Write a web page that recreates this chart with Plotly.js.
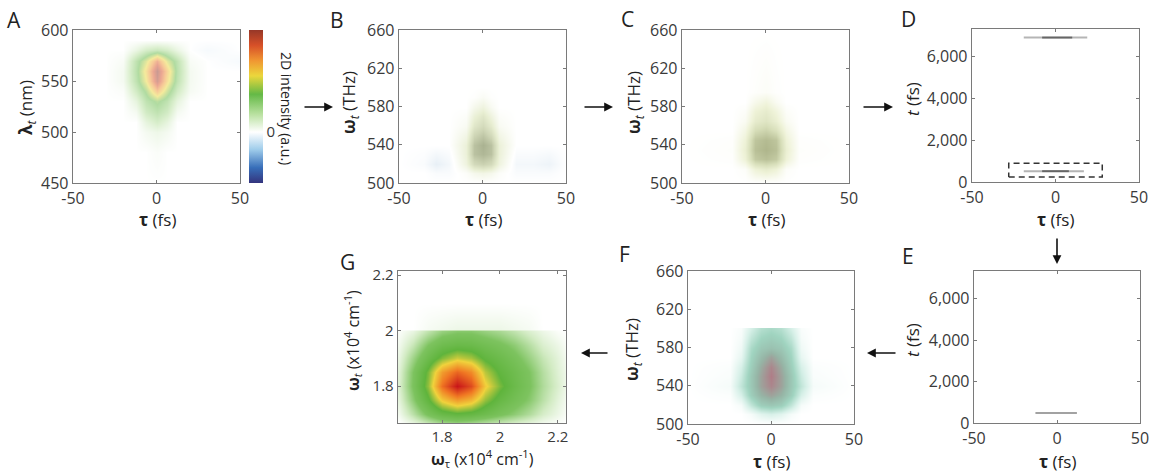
<!DOCTYPE html>
<html><head><meta charset="utf-8">
<script src="https://cdn.plot.ly/plotly-3.0.1.min.js"></script>
<style>html,body{margin:0;padding:0;background:#fff}#plot{width:1157px;height:474px}</style>
</head><body><div id="plot"></div>
<script>
// ---------- DATA ----------
// Panel A: 2D intensity vs tau (fs) and lambda_t (nm)
const tauA = [-50,-30,-20,-12,-6,0,6,12,20,30,50];
const lamA = [450,480,500,510,520,530,540,550,560,570,580,590,600];
const zA = [
 [0,0,0,0,0,0,0,0,0,0,0],
 [0,0,0,0,0,0.02,0,0,0,0,0],
 [0,0,0,0,0.05,0.08,0.05,0,0,0,0],
 [0,0,0,0,0.12,0.2,0.12,0,0,0,0],
 [0,0,0,0.05,0.22,0.3,0.22,0.05,0,0,0],
 [0,0,0,0.12,0.3,0.4,0.3,0.12,0,0,0],
 [0,0,0.02,0.22,0.4,0.7,0.45,0.22,0.04,0,0],
 [0,0,0.05,0.3,0.55,0.95,0.6,0.3,0.05,0,0],
 [0,0,0.05,0.32,0.6,1.0,0.65,0.32,0.05,0,0],
 [0,0,0.03,0.3,0.5,0.8,0.5,0.3,0.03,0,-0.03],
 [0,0,0,0.1,0.2,0.25,0.2,0.1,0,-0.03,0],
 [0,0,0,0,0,0,0,0,0,0,0],
 [0,0,0,0,0,0,0,0,0,0,0]
];
// Panel B: vs tau and omega_t (THz)
const tauB = [-50,-35,-28,-20,-10,-5,0,5,10,20,30,40,50];
const omB = [500,510,520,530,540,550,560,570,580,590,600,660];
const zB = [
 [0,0,0,0,0,0,0,0,0,0,0,0,0],
 [0,0,-0.05,-0.05,0.05,0.15,0.2,0.15,0.05,-0.05,-0.05,-0.05,0],
 [0,-0.05,-0.2,-0.1,0.25,0.6,0.7,0.6,0.25,-0.1,-0.1,-0.15,0],
 [0,-0.03,-0.1,-0.05,0.3,0.85,0.95,0.85,0.3,-0.05,-0.05,-0.08,0],
 [0,0,0,0,0.3,0.85,1.0,0.85,0.3,0,0,0,0],
 [0,0,0,0,0.2,0.65,0.8,0.6,0.2,0,0,0,0],
 [0,0,0,0,0.1,0.45,0.6,0.4,0.1,0,0,0,0],
 [0,0,0,0,0.05,0.3,0.45,0.25,0.05,0,0,0,0],
 [0,0,0,0,0,0.15,0.25,0.1,0,0,0,0,0],
 [0,0,0,0,0,0.02,0.08,0.02,0,0,0,0,0],
 [0,0,0,0,0,0,0,0,0,0,0,0,0],
 [0,0,0,0,0,0,0,0,0,0,0,0,0]
];
// Panel C: filtered, vs tau and omega_t (THz)
const tauC = [-50,-20,-12,-6,0,6,12,20,50];
const omC = [500,515,525,535,545,555,565,575,585,595,660];
const zC = [
 [0,0,0,0,0,0,0,0,0],
 [0,0,0.05,0.3,0.4,0.3,0.05,0,0],
 [0,0.02,0.3,0.8,0.9,0.8,0.3,0.02,0],
 [0,0.03,0.35,0.9,1.0,0.9,0.35,0.03,0],
 [0,0.02,0.3,0.85,0.95,0.85,0.3,0.02,0],
 [0,0,0.2,0.6,0.7,0.55,0.2,0,0],
 [0,0,0.1,0.4,0.5,0.35,0.1,0,0],
 [0,0,0.05,0.3,0.4,0.25,0.05,0,0],
 [0,0,0,0.15,0.25,0.1,0,0,0],
 [0,0,0,0.03,0.06,0.02,0,0,0],
 [0,0,0,0,0,0,0,0,0]
];
// Panel D: time-domain lines (t in fs)
const dLine1Tau = [-19,19];
const dLine1T = [6920,6920];
const dCore1Tau = [-8,10];
const dCore1T = [6920,6920];
const dLine2Tau = [-19,17];
const dLine2T = [520,520];
const dCore2Tau = [-8,8];
const dCore2T = [520,520];
const dBoxTau = [-28,28,28,-28,-28];
const dBoxT = [240,240,900,900,240];
// Panel E: gated time-domain line
const eLineTau = [-13,12];
const eLineT = [480,480];
// Panel F: vs tau and omega_t (THz)
const tauF = [-50,-25,-18,-12,-6,0,6,12,18,25,50];
const omF = [500,510,520,530,540,550,560,570,580,590,600,601,660];
const zF = [
 [0,0,0,0,0,0,0,0,0,0,0],
 [0,0,0,0.05,0.15,0.2,0.15,0.05,0,0,0],
 [0,0,0.05,0.3,0.5,0.55,0.5,0.3,0.05,0,0],
 [0,0.02,0.2,0.5,0.7,0.8,0.7,0.5,0.2,0.02,0],
 [0,0.05,0.3,0.55,0.8,0.95,0.8,0.55,0.3,0.05,0],
 [0,0.03,0.25,0.55,0.8,1.0,0.8,0.55,0.25,0.03,0],
 [0,0.02,0.2,0.5,0.75,0.95,0.75,0.5,0.2,0.02,0],
 [0,0,0.12,0.45,0.65,0.8,0.65,0.45,0.12,0,0],
 [0,0,0.08,0.4,0.55,0.6,0.55,0.4,0.08,0,0],
 [0,0,0.05,0.3,0.45,0.5,0.45,0.3,0.05,0,0],
 [0,0,0.03,0.2,0.35,0.4,0.35,0.2,0.03,0,0],
 [0,0,0,0,0,0,0,0,0,0,0],
 [0,0,0,0,0,0,0,0,0,0,0]
];
// Panel G: 2D spectrum, omega_tau vs omega_t (x10^4 cm^-1)
const wTau = [1.65,1.7,1.75,1.8,1.85,1.9,1.95,2.0,2.05,2.1,2.15,2.2,2.23];
const wT = [1.667,1.7,1.75,1.8,1.85,1.9,1.95,2.0,2.005,2.1,2.215];
const zG = [
 [0.0,0.05,0.12,0.18,0.2,0.18,0.15,0.12,0.09,0.06,0.03,0.01,0],
 [0.03,0.14,0.27,0.36,0.4,0.38,0.33,0.27,0.22,0.16,0.09,0.04,0.01],
 [0.06,0.22,0.4,0.6,0.7,0.64,0.48,0.37,0.3,0.23,0.14,0.06,0.02],
 [0.08,0.26,0.48,0.8,1.0,0.88,0.6,0.45,0.35,0.26,0.16,0.08,0.03],
 [0.07,0.25,0.45,0.7,0.82,0.74,0.52,0.4,0.33,0.25,0.15,0.07,0.03],
 [0.05,0.19,0.34,0.46,0.54,0.5,0.4,0.34,0.28,0.2,0.12,0.06,0.02],
 [0.03,0.12,0.25,0.33,0.36,0.35,0.31,0.27,0.22,0.15,0.08,0.04,0.01],
 [0.01,0.05,0.13,0.2,0.23,0.23,0.2,0.17,0.13,0.08,0.04,0.01,0],
 [0,0,0.02,0.03,0.04,0.04,0.04,0.04,0.03,0.02,0,0,0],
 [0,0,0,0,0,0,0,0,0,0,0,0,0],
 [0,0,0,0,0,0,0,0,0,0,0,0,0]
];
// Tick labels
const tauTicks = [-50,0,50], tauTickText = ['-50','0','50'];
const lamTicks = [450,500,550,600];
const omTicks = [500,540,580,620,660];
const tTicks = [0,2000,4000,6000], tTickText = ['0','2,000','4,000','6,000'];
const gTicks = [1.8,2,2.2], gTickText = ['1.8','2','2.2'];

// ---------- LAYOUT HELPERS ----------
const W = 1157, H = 474;
const dx = (a,b) => [a/W, b/W];
const dy = (top,bot) => [1-bot/H, 1-top/H];
const FONT = 'Open Sans, Noto Sans, sans-serif';
const tickFont = {family: FONT, size: 16, color: '#3a3a3a'};
function ax(domain, anchor, range, tickvals, ticktext, extra) {
  return Object.assign({
    domain, anchor, range, tickvals, ticktext: ticktext || tickvals.map(String),
    showline: true, mirror: 'ticks', linecolor: '#7a7a7a', linewidth: 1.3,
    ticks: 'inside', ticklen: 3, tickcolor: '#7a7a7a', tickwidth: 1,
    showgrid: false, zeroline: false, tickfont: tickFont, fixedrange: true
  }, extra || {});
}

const jet = [[0,'rgb(52,52,125)'],[0.1,'rgb(55,110,185)'],[0.22,'rgb(160,205,235)'],[0.333,'rgb(255,255,255)'],
  [0.45,'rgb(185,225,160)'],[0.58,'rgb(100,185,70)'],[0.7,'rgb(235,215,60)'],[0.8,'rgb(240,150,50)'],
  [0.9,'rgb(215,80,40)'],[1,'rgb(150,55,40)']];
const csB = [[0,'rgb(220,232,242)'],[0.23,'rgb(255,255,255)'],[0.5,'rgb(232,238,210)'],[0.75,'rgb(205,212,180)'],[1,'rgb(170,178,145)']];
const csC = [[0,'rgb(255,255,255)'],[0.3,'rgb(238,242,215)'],[0.6,'rgb(215,222,185)'],[1,'rgb(175,182,140)']];
const csF = [[0,'rgb(255,255,255)'],[0.2,'rgb(215,240,232)'],[0.45,'rgb(160,212,192)'],[0.7,'rgb(150,180,165)'],[1,'rgb(175,125,135)']];
const csG = [[0,'rgb(255,255,255)'],[0.1,'rgb(210,235,195)'],[0.25,'rgb(125,195,95)'],[0.42,'rgb(95,180,60)'],
  [0.58,'rgb(240,210,60)'],[0.78,'rgb(240,120,35)'],[1,'rgb(200,20,25)']];

const hm = (x,y,z,xa,ya,cs,zmin,zmax,extra) => Object.assign({type:'heatmap', x, y, z, xaxis:xa, yaxis:ya,
  colorscale: cs, zmin, zmax, zsmooth:'best', showscale:false, hoverinfo:'skip'}, extra||{});
const ln = (x,y,xa,ya,color,width,dash) => ({type:'scatter', mode:'lines', x, y, xaxis:xa, yaxis:ya,
  line:{color, width, dash: dash||'solid'}, hoverinfo:'skip'});

const data = [
  hm(tauA, lamA, zA, 'x', 'y', jet, -0.5, 1.0, {opacity: 0.5, showscale: true,
    colorbar: {x: 249/W, xanchor:'left', y: 1-106.5/H, yanchor:'middle', len: 153/H, lenmode:'fraction',
      thickness: 14, thicknessmode:'pixels', outlinewidth: 0, tickvals:[0], ticktext:['0'], ticks:'',
      ticklabelposition:'outside', tickfont:{family:FONT,size:15,color:'#3a3a3a'}, xpad:0, ypad:0}}),
  hm(tauB, omB, zB, 'x2', 'y2', csB, -0.3, 1.0),
  hm(tauC, omC, zC, 'x3', 'y3', csC, 0, 1.0),
  ln(dLine1Tau, dLine1T, 'x4', 'y4', 'rgba(90,90,90,0.45)', 2),
  ln(dCore1Tau, dCore1T, 'x4', 'y4', 'rgba(50,50,50,0.6)', 2),
  ln(dLine2Tau, dLine2T, 'x4', 'y4', 'rgba(90,90,90,0.45)', 2),
  ln(dCore2Tau, dCore2T, 'x4', 'y4', 'rgba(50,50,50,0.6)', 2),
  ln(dBoxTau, dBoxT, 'x4', 'y4', '#333', 1.5, '6px,4px'),
  ln(eLineTau, eLineT, 'x5', 'y5', 'rgba(70,70,70,0.5)', 2),
  hm(tauF, omF, zF, 'x6', 'y6', csF, 0, 1.0),
  hm(wTau, wT, zG, 'x7', 'y7', csG, 0, 1.0)
];

const layout = {
  width: W, height: H, margin:{l:0,r:0,t:0,b:0}, paper_bgcolor:'#fff', plot_bgcolor:'#fff', showlegend:false,
  font:{family:FONT, color:'#222'},
  xaxis:  ax(dx(73,240),  'y',  [-50,50], tauTicks, tauTickText),
  yaxis:  ax(dy(30,183),  'x',  [450,600], lamTicks),
  xaxis2: ax(dx(399,566), 'y2', [-50,50], tauTicks, tauTickText),
  yaxis2: ax(dy(30,183),  'x2', [500,660], omTicks),
  xaxis3: ax(dx(682,849), 'y3', [-50,50], tauTicks, tauTickText),
  yaxis3: ax(dy(30,183),  'x3', [500,660], omTicks),
  xaxis4: ax(dx(972,1139),'y4', [-50,50], tauTicks, tauTickText),
  yaxis4: ax(dy(29,182),  'x4', [0,7330], tTicks, tTickText),
  xaxis5: ax(dx(974,1140),'y5', [-50,50], tauTicks, tauTickText),
  yaxis5: ax(dy(271,423), 'x5', [0,7330], tTicks, tTickText),
  xaxis6: ax(dx(688,854), 'y6', [-50,50], tauTicks, tauTickText),
  yaxis6: ax(dy(271,424), 'x6', [500,660], omTicks),
  xaxis7: ax(dx(398,566), 'y7', [1.648,2.228], gTicks, gTickText, {tickfont:{family:FONT,size:15,color:'#3a3a3a'}}),
  yaxis7: ax(dy(271,423), 'x7', [1.667,2.215], gTicks, gTickText, {tickfont:{family:FONT,size:15,color:'#3a3a3a'}}),
  annotations: [],
};

const A = layout.annotations;
function txt(x,y,text,size,angle,extra){A.push(Object.assign({xref:'paper',yref:'paper',x:x/W,y:1-y/H,text,showarrow:false,
  xanchor:'center',yanchor:'middle',textangle:angle||0,font:{family:FONT,size:size,color:'#222'}},extra||{}));}
function arrow(x0,y0,x1,y1){A.push({xref:'paper',yref:'paper',x:x1/W,y:1-y1/H,ax:x0-x1,ay:y0-y1,axref:'pixel',ayref:'pixel',
  text:'',showarrow:true,arrowhead:2,arrowsize:1.1,arrowwidth:1.6,arrowcolor:'#111'});}

// panel letters
txt(14,20,'A',21); txt(337,20,'B',21); txt(627,19,'C',21); txt(908,19,'D',21);
txt(908,256,'E',21); txt(624,254,'F',21); txt(347,262,'G',21);
// axis titles
const tauT = '<b>τ</b> (fs)';
txt(157,219,tauT,17); txt(483,219,tauT,17); txt(766,219,tauT,17); txt(1055,219,tauT,17);
txt(1057,461,tauT,17); txt(771,461,tauT,17);
txt(26,108,'<b>λ</b><sub><i>t</i></sub> (nm)',17,-90);
txt(349,103,'<b>ω</b><sub><i>t</i></sub> (THz)',17,-90);
txt(634,103,'<b>ω</b><sub><i>t</i></sub> (THz)',17,-90);
txt(632,350,'<b>ω</b><sub><i>t</i></sub> (THz)',17,-90);
txt(912,99,'<i>t</i> (fs)',17,-90);
txt(912,340,'<i>t</i> (fs)',17,-90);
txt(352,340,'<b>ω</b><sub><i>t</i></sub> (x10<sup>4</sup> cm<sup>-1</sup>)',16,-90);
txt(482,458,'<b>ω</b><sub>τ</sub> (x10<sup>4</sup> cm<sup>-1</sup>)',16,0);
// colorbar title
txt(287,108,'2D intensity (a.u.)',14,90);
// arrows
arrow(303,107,333,107); arrow(583,107,613,107); arrow(862,107,893,107);
arrow(1057,237,1057,264); arrow(897,353,867,353); arrow(609,353,581,353);

Plotly.newPlot('plot', data, layout, {staticPlot:true, displayModeBar:false});
</script></body></html>
